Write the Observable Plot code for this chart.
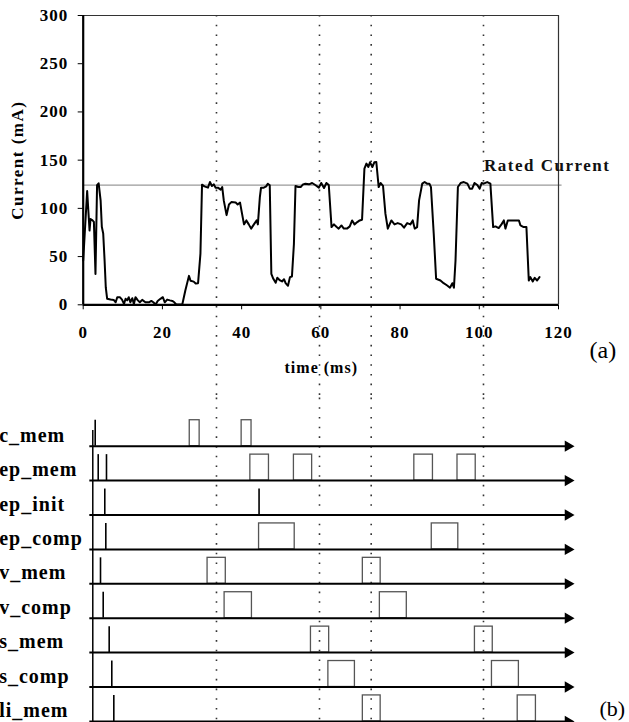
<!DOCTYPE html>
<html>
<head>
<meta charset="utf-8">
<script src="https://cdn.jsdelivr.net/npm/d3@7"></script>
<script src="https://cdn.jsdelivr.net/npm/@observablehq/plot@0.6"></script>
<style>
  html, body { margin: 0; padding: 0; background: white; }
  #chart svg { display: block; overflow: visible; }
</style>
</head>
<body>
<div id="chart"></div>
<script>
// ---------- Data: panel (a) current trace ----------
const currentTime = [0, 1.0, 1.6, 1.85, 2.36, 2.7, 3.1, 3.5, 3.9, 4.4, 4.7, 5.05, 5.4, 5.7,
  6.05, 6.9, 7.7, 8.2, 8.6, 9.25, 9.8, 10.3, 10.7, 11.1, 11.5, 11.9, 12.4, 12.8, 13.2, 13.8, 14.3, 14.9,
  15.7, 16.6, 17.2, 17.7, 18.3, 18.8, 19.5, 20.1, 20.6, 21.2, 21.9, 22.5, 23.0, 23.5, 24.8, 25.0,
  25.8, 26.7, 27.1, 27.9, 28.4, 29.0, 29.6, 30.0, 30.6, 31.5, 32.0, 32.5, 33.0, 33.4, 34.0, 34.7, 35.1,
  35.5, 36.2, 36.8, 37.4, 38.5, 39.0, 39.6, 40.1, 40.6, 41.2, 41.8, 42.4, 43.1, 43.8, 44.1, 44.6,
  44.9, 45.6, 46.2, 46.6, 47.1, 47.5, 48.0, 48.6, 49.0, 49.7, 50.2, 50.7, 51.1, 51.7, 52.2, 52.7,
  53.2, 53.6, 54.3, 54.9, 55.5, 56.1, 57.0, 57.8, 58.6, 59.5, 60.1, 60.8, 61.4, 62.0, 62.7, 63.3,
  64.0, 64.5, 65.2, 65.8, 66.6, 67.3, 67.9, 68.5, 69.2, 69.8, 70.4, 71.0, 71.5, 72.0, 72.4, 73.0,
  73.5, 74.0, 74.6, 75.1, 75.7, 76.3, 76.9, 77.8, 78.6, 79.4, 80.3, 81.0, 81.8, 82.6, 83.2, 83.7,
  84.3, 84.8, 85.6, 86.2, 86.8, 87.4, 87.8, 88.5, 89.1, 90.2, 91.0, 91.9, 92.6, 93.2, 93.6, 94.0,
  94.6, 95.3, 96.1, 97.0, 97.6, 98.2, 98.8, 99.5, 100.1, 100.6, 101.1, 102.0, 102.8, 103.5, 104.1,
  104.9, 105.6, 106.2, 106.6, 107.2, 107.9, 108.7, 110.0, 110.4, 111.2, 111.9, 112.5, 112.9, 113.5,
  114.0, 114.6, 115.2];
const currentValue = [46, 118, 77, 89, 87.5, 86, 32, 124, 126, 108, 81, 74, 46, 18,
  6.2, 5.4, 5.1, 2.6, 7.9, 7.9, 5.4, 0.9, 6.2, 4.6, 7.9, 2.6, 6.8, 0.9, 7.9, 4.6, 2.6, 5.1,
  2.6, 2.6, 4.0, 2.6, 0.3, 4.0, 6.2, 7.9, 2.6, 5.4, 4.6, 4.0, 2.6, 0.3, 0.3, 0,
  15, 30, 25, 24, 22, 22.4, 53, 124.6, 122.8, 121.5, 127.3, 123.2, 124.9, 121.5, 121.5, 119.4, 122.1,
  108, 93, 104, 106.5, 106, 104, 106, 94.5, 83.4, 87.5, 83.4, 79, 83.4, 87.5, 83.4, 111.7,
  121.5, 121.5, 122.8, 125.6, 124, 32, 27, 22.8, 28, 25.3, 24.2, 26.5, 22.4, 19.7, 28.7, 29.4,
  63, 123.2, 122.1, 122.1, 124.9, 125.6, 124.9, 126.3, 124.2, 121.5, 126.3, 121.1, 126.3, 124.2, 80.6, 83.4,
  80.6, 79, 82.3, 79, 79, 81.3, 87.5, 83.4, 85.8, 87.5, 88.2, 141.2, 146.4, 142.9, 147.8, 142.9,
  147.8, 148.1, 122.1, 126.3, 123.2, 94.5, 79, 87.5, 83.4, 84.7, 83.4, 80, 84.7, 83.4, 87.5, 79,
  80.6, 108.3, 125.6, 127.3, 125.6, 125.6, 122.1, 73.7, 27, 25.2, 22.4, 20, 17.7, 22.4, 17.7, 46,
  122.1, 126.3, 127.3, 125.6, 120.4, 120.4, 126.3, 124.2, 120.4, 126.3, 125.6, 127.3, 125.6, 80.6, 81.3,
  79.6, 83.4, 87.5, 79, 87.5, 87.5, 87.5, 87.5, 82.3, 80.6, 80.6, 25.2, 28.7, 24.2,
  28, 25.2, 28.7];
const ratedCurrent = 124;
const xTicks = [0, 20, 40, 60, 80, 100, 120];
const yTicks = [0, 50, 100, 150, 200, 250, 300];
const markerTimes = [33.65, 59.66, 72.71, 101.06];

// ---------- Data: panel (b) activity timing ----------
const rowNames = ["c_mem", "ep_mem", "ep_init", "ep_comp", "v_mem", "v_comp", "s_mem", "s_comp", "li_mem"];
const spikeRow  = [0, 1, 1, 2, 2, 3, 4, 5, 6, 7, 8];
const spikeTime = [3.03, 3.79, 5.88, 5.45, 44.4, 5.71, 4.37, 5.05, 6.56, 7.22, 7.73];
const boxRow   = [0, 0, 1, 1, 1, 1, 3, 3, 4, 4, 5, 5, 6, 6, 7, 7, 8, 8];
const boxStart = [26.9, 40.0, 42.2, 53.2, 83.6, 94.5, 44.4, 88.0, 31.4, 70.6, 35.7, 74.9, 57.5, 98.9, 61.9, 103.2, 70.6, 109.7];
const boxEnd   = [29.4, 42.5, 46.9, 57.8, 88.3, 99.1, 53.4, 94.7, 36.0, 75.1, 42.6, 81.7, 62.1, 103.4, 68.6, 110.0, 75.1, 114.3];
const timeAxisStart = 2.42;
const baselineStart = 1.67;
const baselineEnd = 122.4;

// ---------- Build tables ----------
const current = currentTime.map((t, i) => ({t, v: currentValue[i]}));
const rows = rowNames.map((name, i) => ({name, i}));
const spikes = spikeTime.map((t, k) => ({t, row: spikeRow[k]}));
const boxes = boxStart.map((s, k) => ({s, e: boxEnd[k], row: boxRow[k]}));

const serif = "'Liberation Serif', 'Times New Roman', Times, serif";
const LEVEL = 0.755;   // pulse height in row units
const dotted = {stroke: "#333", strokeWidth: 1.6, strokeDasharray: "1.6,8.1"};

const W = 629;
const mL = 82.7, mR = 71;

// ---------- Panel (a) ----------
const panelA = Plot.plot({
  width: W, height: 400,
  marginLeft: mL, marginRight: mR, marginTop: 15, marginBottom: 95.7,
  style: {fontFamily: serif, fontSize: "17px", fontWeight: "bold", letterSpacing: "1px", background: "white", color: "black", overflow: "visible"},
  x: {domain: [0, 120], ticks: xTicks, tickSize: 5, tickPadding: 16, label: null, tickFormat: d => String(d)},
  y: {domain: [0, 300], ticks: yTicks, tickSize: 5, tickPadding: 10, label: null, tickFormat: d => String(d)},
  marks: [
    Plot.ruleX(markerTimes, {x: d => d, y1: 300, y2: -100, ...dotted}),
    Plot.ruleY([ratedCurrent], {y: d => d, x1: 0, x2: 120.9, stroke: "#9a9a9a", strokeWidth: 1.3}),
    Plot.ruleY([300], {y: d => d, x1: 0, x2: 120, stroke: "#333", strokeWidth: 1.2}),
    Plot.ruleX([120], {x: d => d, y1: 0, y2: 300, stroke: "#333", strokeWidth: 1.2}),
    Plot.line(current, {x: "t", y: "v", stroke: "black", strokeWidth: 2, strokeLinejoin: "round"}),
    Plot.ruleX([0], {x: d => d, y1: 0, y2: 300, stroke: "black", strokeWidth: 2.2}),
    Plot.ruleY([0], {y: d => d, x1: 0, x2: 120, stroke: "black", strokeWidth: 2.2}),
    Plot.text(["Rated Current"], {x: 101.2, y: 144, textAnchor: "start", fontSize: 17, fontWeight: "bold", fill: "#111"}),
    Plot.text(["time (ms)"], {x: 60.1, y: -65, textAnchor: "middle", fontSize: 16, fontWeight: "bold"}),
    Plot.text(["Current (mA)"], {frameAnchor: "left", dx: -66, rotate: -90, textAnchor: "middle", fontSize: 17, fontWeight: "bold"}),
    Plot.text(["(a)"], {x: 131.2, y: -47.5, textAnchor: "middle", fontSize: 24, fontWeight: "normal"})
  ]
});

// ---------- Panel (b) ----------
const panelB = Plot.plot({
  width: W, height: 322,
  marginLeft: mL, marginRight: mR, marginTop: 0, marginBottom: 0,
  style: {fontFamily: serif, fontSize: "20px", fontWeight: "bold", letterSpacing: "1px", background: "white", color: "black", overflow: "visible"},
  x: {domain: [0, 120], axis: null},
  y: {domain: [0, 8], range: [45.7, 320.9], axis: null},
  marks: [
    Plot.ruleX(markerTimes, {x: d => d, y1: -1.4, y2: 8.1, ...dotted}),
    Plot.rect(boxes, {x1: "s", x2: "e", y1: d => d.row - LEVEL, y2: "row", fill: "none", stroke: "#555", strokeWidth: 1.3}),
    Plot.ruleX(spikes, {x: "t", y1: d => d.row - LEVEL, y2: "row", stroke: "black", strokeWidth: 1.6}),
    Plot.ruleX([timeAxisStart], {x: d => d, y1: -0.46, y2: 8.05, stroke: "black", strokeWidth: 1.5}),
    Plot.ruleY(rows, {y: "i", x1: baselineStart, x2: baselineEnd, stroke: "black", strokeWidth: 2}),
    Plot.dot(rows, {x: baselineEnd, y: "i", symbol: "triangle", rotate: 90, r: 4.2, fill: "black", stroke: "none"}),
    Plot.text(rows, {text: "name", y: "i", frameAnchor: "left", dx: -84, dy: -10.8, textAnchor: "start", fontSize: 20, fontWeight: "bold"}),
    Plot.text(["(b)"], {x: 133.6, y: 7.64, textAnchor: "middle", fontSize: 22, fontWeight: "normal"})
  ]
});

const chart = document.getElementById("chart");
chart.appendChild(panelA);
chart.appendChild(panelB);
d3.selectAll("#chart svg text").filter(function () { return this.textContent.startsWith("("); })
  .style("letter-spacing", "0px");
d3.selectAll("#chart svg text").filter(function () { return this.textContent === "Current (mA)" || this.textContent === "Rated Current"; })
  .style("letter-spacing", "1.5px");
</script>
</body>
</html>
